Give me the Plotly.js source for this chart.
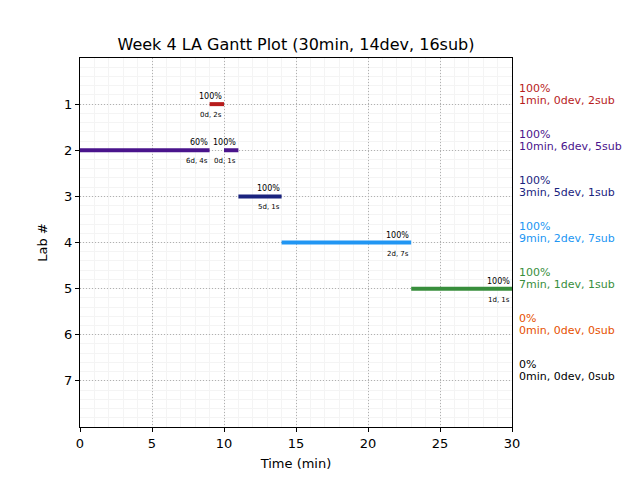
<!DOCTYPE html>
<html>
<head>
<meta charset="utf-8">
<script src="https://cdn.plot.ly/plotly-3.0.1.min.js"></script>
<style>html,body{margin:0;padding:0;background:#fff}#chart{width:640px;height:480px}</style>
</head>
<body>
<div id="chart"></div>
<script>
// Segment data
const segLab = [1, 2, 2, 3, 4, 5];
const segStart = [9, 0, 10, 11, 14, 23];
const segEnd = [10, 9, 11, 14, 23, 30];
const segPct = ["100%", "60%", "100%", "100%", "100%", "100%"];
const segInfo = ["0d, 2s", "6d, 4s", "0d, 1s", "5d, 1s", "2d, 7s", "1d, 1s"];

// Per-lab summary
const labs = [1, 2, 3, 4, 5, 6, 7];
const labPct = ["100%", "100%", "100%", "100%", "100%", "0%", "0%"];
const labSummary = ["1min, 0dev, 2sub", "10min, 6dev, 5sub", "3min, 5dev, 1sub", "9min, 2dev, 7sub", "7min, 1dev, 1sub", "0min, 0dev, 0sub", "0min, 0dev, 0sub"];
const labColors = ["#b71c1c", "#4a148c", "#1a237e", "#2196f3", "#388e3c", "#e65100", "#000000"];

const traces = [];
const annotations = [];
for (let i = 0; i < segLab.length; i++) {
  const c = labColors[segLab[i] - 1];
  traces.push({
    x: [segStart[i], segEnd[i]], y: [segLab[i], segLab[i]],
    mode: "lines", line: {color: c, width: 4}, hoverinfo: "skip", showlegend: false,
    cliponaxis: false
  });
  annotations.push({x: segEnd[i], y: segLab[i], xref: "x", yref: "y", text: segPct[i],
    showarrow: false, xanchor: "right", yanchor: "bottom", yshift: 1,
    font: {family: "DejaVu Sans", size: 8, color: "#000"}});
  annotations.push({x: segEnd[i], y: segLab[i], xref: "x", yref: "y", text: segInfo[i],
    showarrow: false, xanchor: "right", yanchor: "top", yshift: -5,
    font: {family: "DejaVu Sans", size: 7, color: "#000"}});
}
for (let j = 0; j < labs.length; j++) {
  annotations.push({x: 1, y: labs[j], xref: "paper", yref: "y", xshift: 5,
    text: labPct[j], align: "left",
    showarrow: false, xanchor: "left", yanchor: "middle", yshift: 16,
    font: {family: "DejaVu Sans", size: 11, color: labColors[j]}});
  annotations.push({x: 1, y: labs[j], xref: "paper", yref: "y", xshift: 5,
    text: labSummary[j], align: "left",
    showarrow: false, xanchor: "left", yanchor: "middle", yshift: 4,
    font: {family: "DejaVu Sans", size: 11, color: labColors[j]}});
}

const layout = {
  width: 640, height: 480,
  margin: {l: 80, r: 128, t: 58, b: 53},
  paper_bgcolor: "#fff", plot_bgcolor: "#fff",
  title: {text: "Week 4 LA Gantt Plot (30min, 14dev, 16sub)", x: 0.4625, xanchor: "center", y: 0.895, yanchor: "bottom",
    font: {family: "DejaVu Sans", size: 16, color: "#000"}},
  font: {family: "DejaVu Sans", color: "#000"},
  xaxis: {range: [0, 30], tickvals: [0, 5, 10, 15, 20, 25, 30], ticks: "outside", ticklen: 4, tickcolor: "#000",
    showline: true, mirror: true, linecolor: "#000", linewidth: 1, zeroline: false,
    showgrid: true, gridcolor: "#b0b0b0", griddash: "1px,2px", gridwidth: 1,
    minor: {dtick: 1, showgrid: true, gridcolor: "#f4f4f4", gridwidth: 1, griddash: "solid"},
    tickfont: {size: 13}, title: {text: "Time (min)", font: {size: 13}, standoff: 9}},
  yaxis: {range: [8, 0], tickvals: labs, ticks: "outside", ticklen: 4, tickcolor: "#000",
    showline: true, mirror: true, linecolor: "#000", linewidth: 1, zeroline: false,
    showgrid: true, gridcolor: "#b0b0b0", griddash: "1px,2px", gridwidth: 1,
    minor: {dtick: 0.2, showgrid: true, gridcolor: "#f4f4f4", gridwidth: 1, griddash: "solid"},
    tickfont: {size: 13}, title: {text: "Lab #", font: {size: 13}, standoff: 13}},
  annotations: annotations,
  showlegend: false
};
Plotly.newPlot("chart", traces, layout, {staticPlot: true, displayModeBar: false});
</script>
</body>
</html>
